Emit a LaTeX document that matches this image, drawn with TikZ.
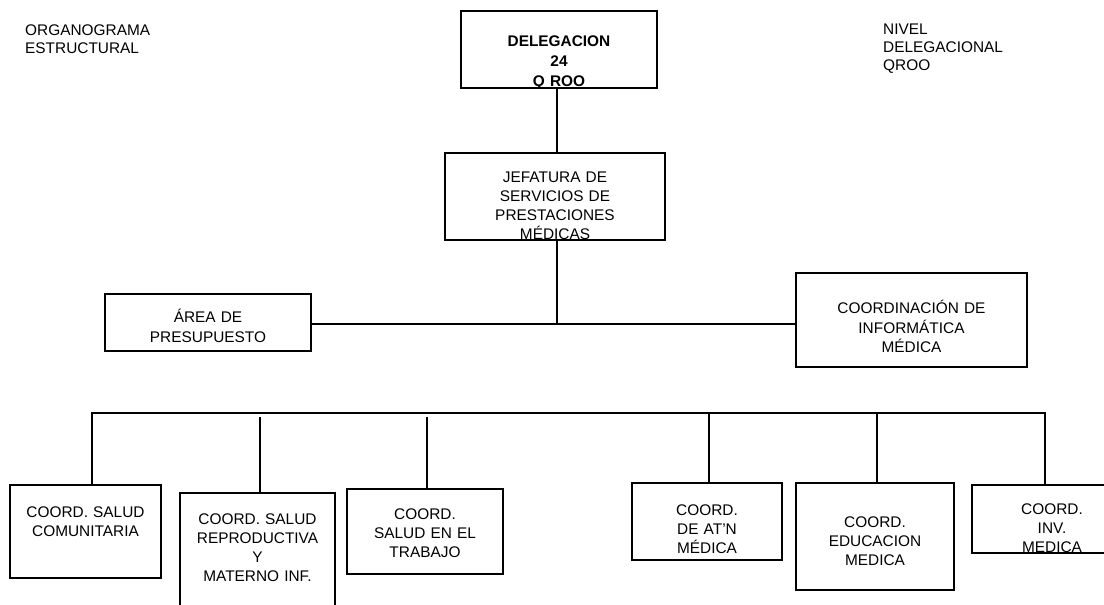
\documentclass[tikz,border=0pt]{standalone}
\usepackage{fontspec}
\setmainfont{Liberation Sans}
\usepackage{tikz}

\begin{document}
\begin{tikzpicture}[x=1bp, y=-1bp]
		\tikzstyle{cuadro} = [draw=black, line width=2.6bp, rectangle, align=center, anchor=base, inner xsep=2bp, inner ysep=0pt, font=\fontsize{15.4bp}{19bp}\selectfont]
		\tikzstyle{rotulo} = [draw=none, align=left, anchor=base west, text width=160bp, inner sep=0pt, font=\fontsize{15.4bp}{18bp}\selectfont]
		\tikzstyle{linea} = [line width=2bp]
		
		\useasboundingbox (0,0) rectangle (1104,605);
		\clip (0,0) rectangle (1104,605);
		
		\node[rotulo]	at (25, 36)		(titulo)	{ORGANOGRAMA\\ESTRUCTURAL};
		\node[rotulo]	at (883, 35)	(nivel)		{NIVEL\\DELEGACIONAL\\QROO};
		
		\node[cuadro, text width=192bp, text height=36bp, text depth=41bp, font=\fontsize{15.4bp}{20bp}\selectfont\bfseries]
			at (559, 47)	(dele)	{DELEGACION\\24\\Q ROO};
		\node[cuadro, text width=216bp, text height=30bp, text depth=57bp]
			at (555, 183)	(jefe)	{JEFATURA DE\\SERVICIOS DE\\PRESTACIONES\\MÉDICAS};
		\node[cuadro, text width=202bp, text height=29bp, text depth=28bp]
			at (208, 323)	(area)	{ÁREA DE\\PRESUPUESTO};
		\node[cuadro, text width=227bp, text height=41bp, text depth=53bp]
			at (911.5, 314)	(info)	{COORDINACIÓN DE\\INFORMÁTICA\\MÉDICA};
		
		\node[cuadro, text width=147bp, text height=32bp, text depth=61bp]
			at (85.5, 517)	(comu)	{COORD. SALUD\\COMUNITARIA};
		\node[cuadro, text width=151bp, text height=31bp, text depth=101bp]
			at (257.5, 524)	(repro)	{COORD. SALUD\\REPRODUCTIVA\\Y\\MATERNO INF.};
		\node[cuadro, text width=152bp, text height=30bp, text depth=55bp]
			at (425, 519)	(trab)	{COORD.\\SALUD EN EL\\TRABAJO};
		\node[cuadro, text width=146bp, text height=32bp, text depth=45bp]
			at (707, 515)	(atn)	{COORD.\\DE AT’N\\MÉDICA};
		\node[cuadro, text width=154bp, text height=44bp, text depth=63bp]
			at (875, 527)	(edu)	{COORD.\\EDUCACION\\MEDICA};
		\node[cuadro, text width=156bp, text height=29bp, text depth=39bp]
			at (1052, 514)	(inv)	{COORD.\\INV.\\MEDICA};
		
		\coordinate (nudo) at (557, 324);
		\coordinate (barra) at (0, 413);
		
		\draw[linea] (dele.south -| nudo) -- (jefe.north -| nudo);
		\draw[linea] (jefe.south -| nudo) -- (nudo);
		\draw[linea] (area.east |- nudo) -- (info.west |- nudo);
		
		\draw[linea] ([xshift=6.5bp]comu.north) -- ([xshift=6.5bp]comu.north |- barra)
			-- ([xshift=-7bp]inv.north |- barra) -- ([xshift=-7bp]inv.north);
		\foreach \n in {atn, edu}
			\draw[linea] ([xshift=2bp]\n.north |- barra) -- ([xshift=2bp]\n.north);
		\foreach \n in {repro, trab}
			\draw[linea] ([xshift=2bp, yshift=-4bp]\n.north |- barra) -- ([xshift=2bp]\n.north);
	\end{tikzpicture}
\end{document}
